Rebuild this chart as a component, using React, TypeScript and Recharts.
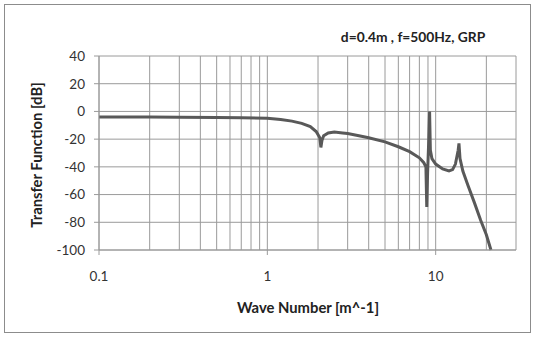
import { LineChart, Line, XAxis, YAxis, CartesianGrid } from 'recharts';

// wave number [m^-1]
const waveNumbers = [
  0.1, 0.2, 0.3, 0.5, 0.7, 1.0, 1.2, 1.4, 1.6, 1.8, 1.95, 2.05, 2.08, 2.11, 2.16, 2.3, 2.5, 2.8, 3.0,
  3.5, 4.0, 5.0, 6.0, 7.0, 8.0, 8.5, 8.75, 8.85, 8.95, 9.1, 9.2, 9.3, 9.5, 10, 11, 12, 12.6, 13.1,
  13.6, 13.75, 13.95, 14.5, 15.5, 17, 18.5, 20, 21.3,
];
// transfer function [dB]
const transferDb = [
  -4.0, -4.1, -4.2, -4.4, -4.6, -5.0, -5.8, -7.0, -8.6, -11.0, -14.5, -19, -26, -21, -17.5, -15.5,
  -14.8, -15.5, -16, -17.5, -19, -22, -25.5, -29, -33.5, -37, -40, -69, -45, -20, 0, -28, -34, -38,
  -41.5, -43, -42, -38, -28, -23, -34, -43, -53, -66, -78.5, -89, -100,
];

const xGridTicks = [
  0.1, 0.2, 0.3, 0.4, 0.5, 0.6, 0.7, 0.8, 0.9, 1, 2, 3, 4, 5, 6, 7, 8, 9, 10, 20, 30,
];
const xLabels = [0.1, 1, 10];
const yTicks = [-100, -80, -60, -40, -20, 0, 20, 40];

const data = waveNumbers.map((k, i) => ({ k, db: transferDb[i] }));

const FONT = 'Lato, "Open Sans", sans-serif';
const GRID = '#9a9a9a';

function XTick(props: any) {
  const { x, y, payload } = props;
  if (!xLabels.includes(payload.value)) return null;
  return (
    <g>
      <line x1={x} x2={x} y1={y} y2={y + 5} stroke={GRID} />
      <text x={x} y={y + 31} textAnchor="middle" fontSize={13.5} fill="#333" fontFamily={FONT}>
        {payload.value}
      </text>
    </g>
  );
}

export default function App() {
  return (
    <div style={{ position: 'absolute', left: 0, top: 0, width: 537, height: 337, background: '#fff' }}>
      <div
        style={{
          position: 'absolute',
          left: 4,
          top: 4,
          width: 527,
          height: 329,
          border: '1px solid #8c8c8c',
          boxSizing: 'border-box',
        }}
      />
      <LineChart width={537} height={337} data={data} margin={{ top: 56, right: 21, left: 39, bottom: 57 }}>
        <CartesianGrid stroke={GRID} strokeWidth={1} />
        <XAxis
          dataKey="k"
          type="number"
          scale="log"
          domain={[0.1, 30]}
          ticks={xGridTicks}
          interval={0}
          tick={<XTick />}
          tickSize={0}
          tickMargin={0}
          height={30}
          axisLine={{ stroke: GRID }}
          allowDataOverflow
        />
        <YAxis
          type="number"
          domain={[-100, 40]}
          ticks={yTicks}
          interval={0}
          width={60}
          tickSize={5}
          tickMargin={9}
          tickLine={{ stroke: GRID }}
          axisLine={{ stroke: GRID }}
          tick={{ fontSize: 13.5, fill: '#333', fontFamily: FONT }}
        />
        <Line
          dataKey="db"
          type="linear"
          stroke="#595959"
          strokeWidth={3}
          dot={false}
          isAnimationActive={false}
        />
        <text x={413} y={42} textAnchor="middle" fontSize={13.8} fontWeight="bold" fill="#222" fontFamily={FONT}>
          d=0.4m , f=500Hz, GRP
        </text>
        <text
          x={42}
          y={155}
          transform="rotate(-90 42 155)"
          textAnchor="middle"
          fontSize={14.8}
          fontWeight="bold"
          fill="#222"
          fontFamily={FONT}
        >
          Transfer Function [dB]
        </text>
        <text x={308} y={313} textAnchor="middle" fontSize={14.8} fontWeight="bold" fill="#222" fontFamily={FONT}>
          Wave Number [m^-1]
        </text>
      </LineChart>
    </div>
  );
}
